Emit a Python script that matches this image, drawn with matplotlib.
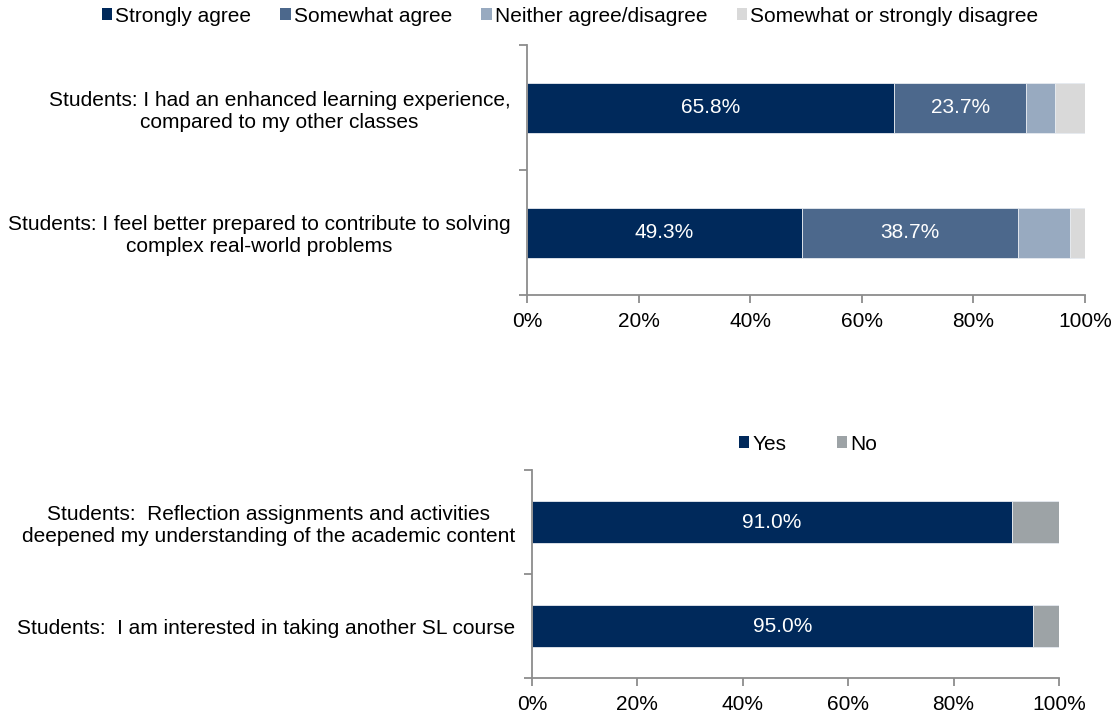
import matplotlib
matplotlib.use("Agg")
import matplotlib.pyplot as plt
from matplotlib.patches import Patch
from matplotlib.ticker import FixedLocator

plt.rcParams['font.family'] = ['Liberation Sans', 'DejaVu Sans']

# ---- Data ----
top_categories = [
    "Students: I had an enhanced learning experience,\ncompared to my other classes",
    "Students: I feel better prepared to contribute to solving\ncomplex real-world problems",
]
top_series = ["Strongly agree", "Somewhat agree", "Neither agree/disagree", "Somewhat or strongly disagree"]
strongly_agree = [65.8, 49.3]
somewhat_agree = [23.7, 38.7]
neither = [5.1, 9.4]
disagree = [5.4, 2.6]

bottom_categories = [
    "Students:  Reflection assignments and activities\ndeepened my understanding of the academic content",
    "Students:  I am interested in taking another SL course",
]
bottom_series = ["Yes", "No"]
yes_vals = [91.0, 95.0]
no_vals = [9.0, 5.0]

x_ticks = [0, 20, 40, 60, 80, 100]
x_tick_labels = ["0%", "20%", "40%", "60%", "80%", "100%"]

top_colors = ["#00295B", "#4C688C", "#98AAC0", "#D9D9D9"]
bottom_colors = ["#00295B", "#9DA3A6"]

FS = 15
SPINE = "#8C8C8C"

fig = plt.figure(figsize=(11.17, 7.14), dpi=100)


def style_axes(ax, n):
    for s in ["top", "right"]:
        ax.spines[s].set_visible(False)
    for s in ["left", "bottom"]:
        ax.spines[s].set_color(SPINE)
        ax.spines[s].set_linewidth(1.3)
    ax.set_xlim(0, 100)
    ax.set_ylim(n - 0.5, -0.5)
    ax.set_xticks(x_ticks)
    ax.set_xticklabels(x_tick_labels, fontsize=FS)
    ax.tick_params(axis="x", direction="out", length=6, width=1.3, color=SPINE, pad=6)
    ax.set_yticks(range(n))
    ax.tick_params(axis="y", which="major", length=0, pad=12)
    ax.yaxis.set_minor_locator(FixedLocator([i - 0.5 for i in range(n + 1)]))
    ax.tick_params(axis="y", which="minor", direction="out", length=6, width=1.3, color=SPINE)


# ---- Top chart ----
ax1 = fig.add_axes([527 / 1117, 1 - 295 / 714, 558 / 1117, 250 / 714])
top_data = [strongly_agree, somewhat_agree, neither, disagree]
ypos = list(range(len(top_categories)))
left = [0.0] * len(top_categories)
for si, (vals, col) in enumerate(zip(top_data, top_colors)):
    ax1.barh(ypos, vals, left=left, height=0.4, color=col,
             edgecolor="#E6EAF0", linewidth=0.6, label=top_series[si])
    if si < 2:
        for y, l, v in zip(ypos, left, vals):
            ax1.text(l + v / 2, y, f"{v:.1f}%", ha="center", va="center",
                     color="white", fontsize=FS)
    left = [a + b for a, b in zip(left, vals)]
style_axes(ax1, len(top_categories))
ax1.set_yticklabels(top_categories, fontsize=FS, multialignment="center")

handles1 = [Patch(facecolor=c, edgecolor="none") for c in top_colors]
fig.legend(handles1, top_series, loc="center", bbox_to_anchor=(570 / 1117, 1 - 16 / 714),
           ncol=4, frameon=False, fontsize=FS, handlelength=0.5, handleheight=0.5,
           handletextpad=0.15, columnspacing=1.4)

# ---- Bottom chart ----
ax2 = fig.add_axes([532 / 1117, 1 - 678 / 714, 527 / 1117, 208 / 714])
bottom_data = [yes_vals, no_vals]
ypos2 = list(range(len(bottom_categories)))
left = [0.0] * len(bottom_categories)
for si, (vals, col) in enumerate(zip(bottom_data, bottom_colors)):
    ax2.barh(ypos2, vals, left=left, height=0.4, color=col,
             edgecolor="#E6EAF0", linewidth=0.6, label=bottom_series[si])
    if si == 0:
        for y, l, v in zip(ypos2, left, vals):
            ax2.text(l + v / 2, y, f"{v:.1f}%", ha="center", va="center",
                     color="white", fontsize=FS)
    left = [a + b for a, b in zip(left, vals)]
style_axes(ax2, len(bottom_categories))
ax2.set_yticklabels(bottom_categories, fontsize=FS, multialignment="center")

handles2 = [Patch(facecolor=c, edgecolor="none") for c in bottom_colors]
fig.legend(handles2, bottom_series, loc="center", bbox_to_anchor=(808 / 1117, 1 - 444 / 714),
           ncol=2, frameon=False, fontsize=FS, handlelength=0.5, handleheight=0.5,
           handletextpad=0.15, columnspacing=2.4)

fig.savefig("out.png", dpi=100)
